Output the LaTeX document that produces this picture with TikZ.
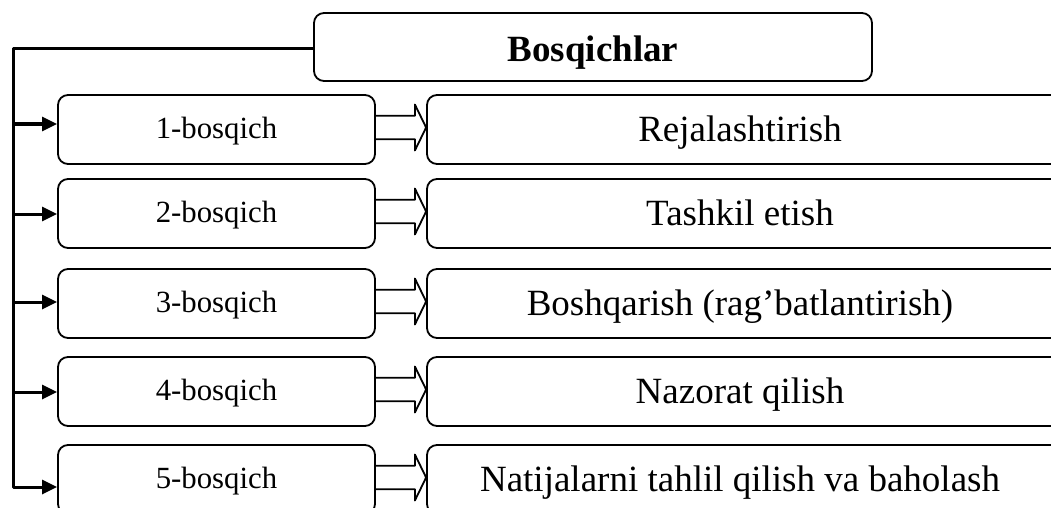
\documentclass[tikz,border=0pt]{standalone}
\usepackage{fontspec}
\setmainfont{Liberation Serif}
\usetikzlibrary{arrows.meta}
\begin{document}
\begin{tikzpicture}[x=1pt,y=-1pt,line join=round]
\useasboundingbox (0,0) rectangle (1051,508);
\tikzset{
  stagebox/.style={draw,line width=1.8pt,rounded corners=10pt,minimum width=317pt,minimum height=69pt,inner sep=0pt,text height=21pt,text depth=4pt,font=\fontsize{30.8}{36}\selectfont},
  actbox/.style={draw,line width=1.8pt,rounded corners=10pt,minimum width=660pt,minimum height=69pt,inner sep=0pt},
  acttext/.style={font=\fontsize{37}{44}\selectfont,inner sep=0pt,text height=25pt,text depth=8pt,xshift=-17pt,yshift=-3.7pt},
  headbox/.style={draw,line width=1.8pt,rounded corners=10pt,minimum width=558pt,minimum height=68pt,inner sep=0pt,text height=29.4pt,text depth=0pt,font=\fontsize{37}{44}\selectfont\bfseries},
  spine/.style={line width=3pt},
  feed/.style={line width=3pt,-{Triangle[length=15pt,width=14pt]}},
  hollow/.style={draw,line width=1.8pt},
}
\node[headbox] (top) at (593,47) {Bosqichlar};
\node[stagebox] (l1) at (216.5,129.5) {1-bosqich};
\node[stagebox] (l2) at (216.5,213.5) {2-bosqich};
\node[stagebox] (l3) at (216.5,303.5) {3-bosqich};
\node[stagebox] (l4) at (216.5,391.5) {4-bosqich};
\node[stagebox] (l5) at (216.5,479.5) {5-bosqich};
\node[actbox,label={[acttext]center:Rejalashtirish}] (r1) at (757,129.5) {};
\node[actbox,label={[acttext]center:Tashkil etish}] (r2) at (757,213.5) {};
\node[actbox,label={[acttext]center:Boshqarish (rag’batlantirish)}] (r3) at (757,303.5) {};
\node[actbox,label={[acttext]center:Nazorat qilish}] (r4) at (757,391.5) {};
\node[actbox,label={[acttext]center:Natijalarni tahlil qilish va baholash}] (r5) at (757,479.5) {};
\coordinate (corner) at (13,49);
\draw[feed] ([yshift=-2pt]top.west) -- (corner) |- ([yshift=-7.5pt]l5.west);
\foreach \i/\ao in {1/5.5,2/-0.5,3/1.5,4/-0.5}{
  \coordinate (a\i) at ([yshift=\ao pt]l\i.west);
  \draw[feed] (corner |- a\i) -- (a\i);
}
\foreach \i in {1,...,5}{
  \draw[hollow] ([yshift=13.7pt]l\i.east) -- ([xshift=39pt,yshift=13.7pt]l\i.east)
    -- ([xshift=39pt,yshift=25pt]l\i.east) -- ([yshift=2pt]r\i.west)
    -- ([xshift=39pt,yshift=-21pt]l\i.east) -- ([xshift=39pt,yshift=-9.7pt]l\i.east)
    -- ([yshift=-9.7pt]l\i.east);
}
\end{tikzpicture}
\end{document}
